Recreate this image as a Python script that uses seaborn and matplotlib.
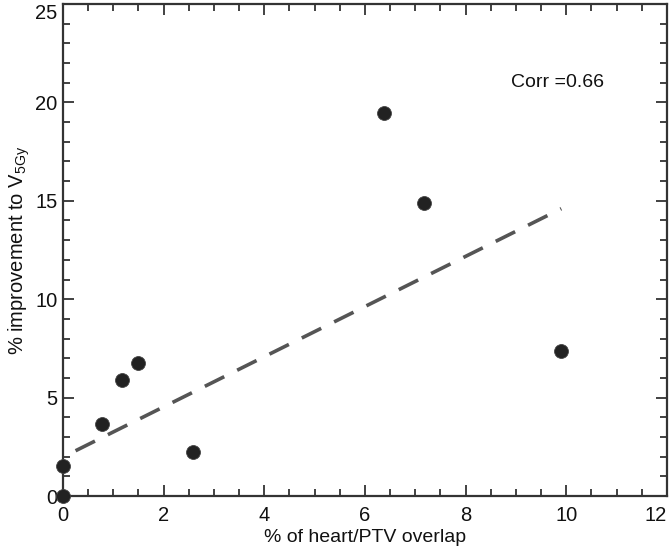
import numpy as np
import pandas as pd
from matplotlib import pyplot as plt
from matplotlib.ticker import MultipleLocator
import seaborn as sns

overlap = [0.0, 0.0, 0.78, 1.18, 1.49, 2.59, 6.37, 7.17, 9.89]
improvement = [0.0, 1.52, 3.65, 5.9, 6.75, 2.23, 19.44, 14.9, 7.36]

fit_x = [0.25, 9.9]
fit_y = [2.3, 14.6]

x_ticks = [0, 2, 4, 6, 8, 10, 12]
y_ticks = [0, 5, 10, 15, 20, 25]

corr_label = 'Corr =0.66'

df = pd.DataFrame({'overlap': overlap, 'improvement': improvement})
fit = pd.DataFrame({'x': fit_x, 'y': fit_y})

sns.set_style('ticks')
plt.rcParams['font.family'] = ['Liberation Sans', 'DejaVu Sans']
plt.rcParams['mathtext.fontset'] = 'custom'
plt.rcParams['mathtext.rm'] = 'Liberation Sans'

fig = plt.figure(figsize=(6.7, 5.49), dpi=100)
ax = fig.add_axes([0.094, 0.0965, 0.9015, 0.8962])

sns.lineplot(data=fit, x='x', y='y', ax=ax, color='#555555', linewidth=2.6,
             dashes=False, linestyle=(0, (6, 4)))
sns.scatterplot(data=df, x='overlap', y='improvement', ax=ax, color='#222222',
                s=100, edgecolor='#444444', linewidth=0.6, zorder=3, clip_on=False)

ax.text(8.9, 21.0, corr_label, fontsize=14, va='center', ha='left', color='#111111')

ax.set_xlim(0, 12)
ax.set_ylim(0, 25)
ax.set_xticks(x_ticks)
ax.set_yticks(y_ticks)
ax.xaxis.set_minor_locator(MultipleLocator(0.5))
ax.yaxis.set_minor_locator(MultipleLocator(1))
ax.tick_params(which='both', direction='in', top=True, right=True,
               color='#333333', width=1.3, labelsize=14.5, labelcolor='#111111')
ax.tick_params(which='major', length=8)
ax.tick_params(axis='x', which='major', pad=7)
ax.tick_params(axis='y', which='major', pad=4)
ax.tick_params(which='minor', length=5)
for sp in ax.spines.values():
    sp.set_color('#333333')
    sp.set_linewidth(1.6)

# keep the edge labels inside the figure, like the reference
ax.xaxis.get_major_ticks()[-1].label1.set_horizontalalignment('right')
ax.yaxis.get_major_ticks()[-1].label1.set_verticalalignment('top')

ax.set_xlabel('% of heart/PTV overlap', fontsize=14, color='#111111', labelpad=3)
ax.set_ylabel('% improvement to $\\mathregular{V_{5Gy}}$', fontsize=14.5, color='#111111', labelpad=2)

plt.savefig('out.png', dpi=100)
